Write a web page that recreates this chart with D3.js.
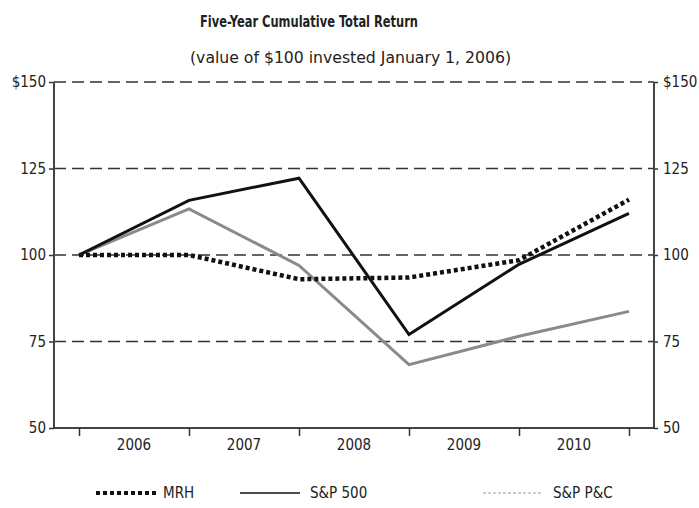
<!DOCTYPE html>
<html>
<head>
<meta charset="utf-8">
<script src="https://cdn.jsdelivr.net/npm/d3@7"></script>
<style>
    body { margin: 0; background: #fff; }
    text { font-family: "Liberation Sans Narrow", "DejaVu Sans Condensed", "Liberation Sans", sans-serif; fill: #222; }
</style>
</head>
<body>
<script>
// data: value of $100 invested January 1, 2006
var points = ["start", "2006", "2007", "2008", "2009", "2010"];
var yearLabels = ["2006", "2007", "2008", "2009", "2010"];
var mrh = [100, 100, 93, 93.5, 98.5, 116];
var sp500 = [100, 115.8, 122.2, 77, 97.3, 112];
var spPC = [100, 113.3, 97, 68.3, 76.5, 83.7];
var yTicks = [50, 75, 100, 125, 150];

var width = 699, height = 508;
var plotLeft = 54, plotRight = 654, plotTop = 82, plotBottom = 428;

var svg = d3.select("body").append("svg")
    .attr("width", width)
    .attr("height", height);

// scales
var x = d3.scaleLinear().domain([0, points.length - 1]).range([79, 629]);
var y = d3.scaleLinear().domain([50, 150]).range([plotBottom, plotTop]);

// titles
svg.append("text")
    .attr("x", 200).attr("y", 27)
    .attr("textLength", 218).attr("lengthAdjust", "spacingAndGlyphs")
    .style("font-size", "16px").style("font-weight", "bold")
    .text("Five-Year Cumulative Total Return");
svg.append("text")
    .attr("x", 190).attr("y", 63)
    .attr("textLength", 321).attr("lengthAdjust", "spacingAndGlyphs")
    .style("font-size", "16px")
    .text("(value of $100 invested January 1, 2006)");

// dashed grid lines (including the top edge)
svg.selectAll("line.grid")
    .data(yTicks.filter(function (d) { return d > 50; }))
    .enter().append("line")
    .attr("class", "grid")
    .attr("x1", plotLeft).attr("x2", plotRight)
    .attr("y1", function (d) { return y(d); })
    .attr("y2", function (d) { return y(d); })
    .attr("stroke", "#333")
    .attr("stroke-width", 1.6)
    .attr("stroke-dasharray", "12,6");

// left and right axes
var fmt = function (d) { return d === 150 ? "$150" : d; };
var leftAxis = d3.axisLeft(y).tickValues(yTicks).tickSize(5).tickPadding(3).tickFormat(fmt);
var rightAxis = d3.axisRight(y).tickValues(yTicks).tickSize(4).tickPadding(5).tickFormat(fmt);

var gl = svg.append("g").attr("transform", "translate(" + plotLeft + ",0)").call(leftAxis);
var gr = svg.append("g").attr("transform", "translate(" + plotRight + ",0)").call(rightAxis);
[gl, gr].forEach(function (g) {
    g.select(".domain").remove();
    g.selectAll("line").attr("stroke", "#333").attr("stroke-width", 1.5);
    g.selectAll("text").style("font-size", "15px").attr("fill", "#222");
});

// frame: left, right and bottom solid
svg.append("line").attr("x1", plotLeft).attr("x2", plotLeft).attr("y1", plotTop).attr("y2", plotBottom)
    .attr("stroke", "#444").attr("stroke-width", 2);
svg.append("line").attr("x1", plotRight).attr("x2", plotRight).attr("y1", plotTop).attr("y2", plotBottom)
    .attr("stroke", "#444").attr("stroke-width", 2);
svg.append("line").attr("x1", plotLeft).attr("x2", plotRight).attr("y1", plotBottom).attr("y2", plotBottom)
    .attr("stroke", "#444").attr("stroke-width", 2);

// x ticks and year labels between them
var xAxis = d3.axisBottom(x).tickValues(d3.range(points.length)).tickSize(8).tickFormat("");
var gx = svg.append("g").attr("transform", "translate(0," + plotBottom + ")").call(xAxis);
gx.select(".domain").remove();
gx.selectAll("line").attr("stroke", "#333").attr("stroke-width", 1.5);

svg.selectAll("text.year")
    .data(yearLabels)
    .enter().append("text")
    .attr("class", "year")
    .attr("x", function (d, i) { return x(i + 0.5); })
    .attr("y", 450)
    .attr("text-anchor", "middle")
    .style("font-size", "15px")
    .text(function (d) { return d; });

// series
var line = d3.line()
    .x(function (d, i) { return x(i); })
    .y(function (d) { return y(d); });

svg.append("path").datum(spPC)
    .attr("d", line).attr("fill", "none")
    .attr("stroke", "#8a8a8a").attr("stroke-width", 3);

svg.append("path").datum(sp500)
    .attr("d", line).attr("fill", "none")
    .attr("stroke", "#111").attr("stroke-width", 3);

svg.append("path").datum(mrh)
    .attr("d", line).attr("fill", "none")
    .attr("stroke", "#111").attr("stroke-width", 4.5)
    .attr("stroke-dasharray", "4,3");

// legend
var legend = [
    { name: "MRH", x: 96, color: "#111", w: 4, dash: "4,3" },
    { name: "S&P 500", x: 240, color: "#111", w: 1.6, dash: null },
    { name: "S&P P&C", x: 483, color: "#999", w: 1.2, dash: "3,2" }
];
var lg = svg.selectAll("g.legend").data(legend).enter().append("g")
    .attr("class", "legend")
    .attr("transform", function (d) { return "translate(" + d.x + ",493)"; });
lg.append("line")
    .attr("x1", 0).attr("x2", 60).attr("y1", 0).attr("y2", 0)
    .attr("stroke", function (d) { return d.color; })
    .attr("stroke-width", function (d) { return d.w; })
    .attr("stroke-dasharray", function (d) { return d.dash; });
lg.append("text")
    .attr("x", function (d, i) { return i === 0 ? 67 : 70; })
    .attr("y", 5)
    .style("font-size", "15px")
    .text(function (d) { return d.name; });
</script>
</body>
</html>
